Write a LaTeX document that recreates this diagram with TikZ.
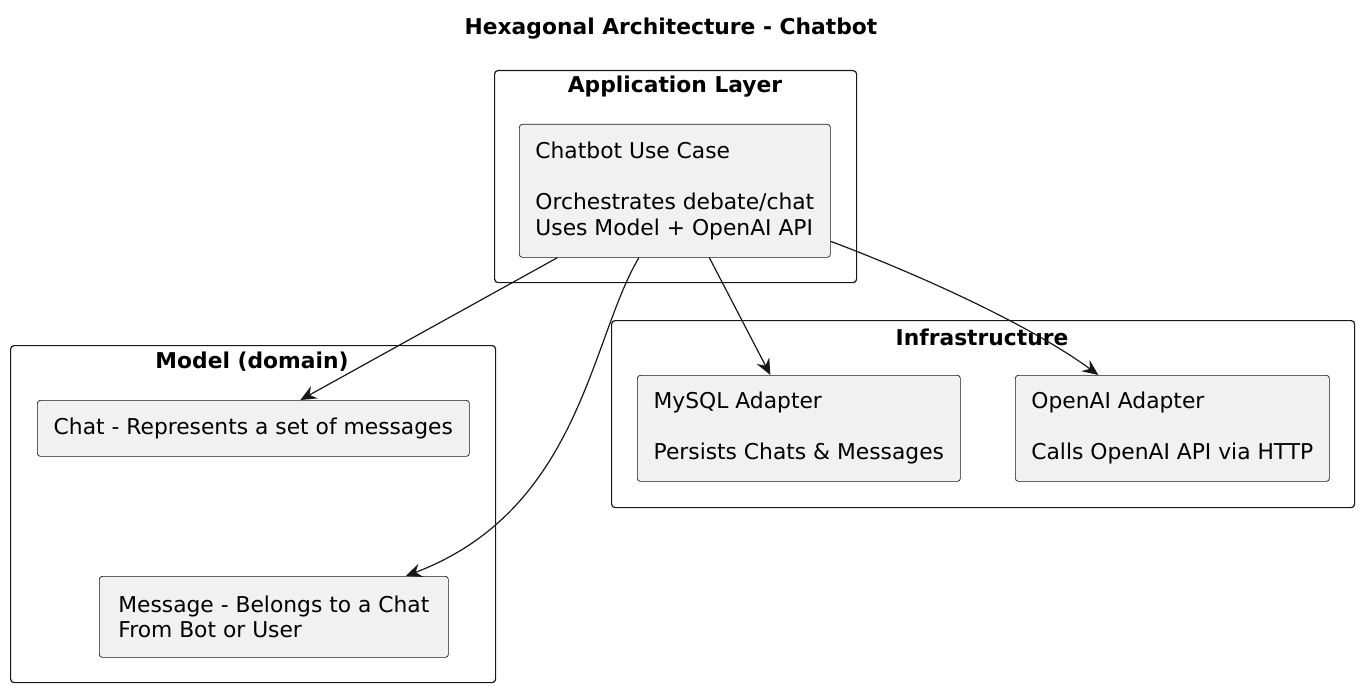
\documentclass[tikz,border=0pt]{standalone}
\usepackage{fontspec}
\setmainfont{DejaVu Sans}
\usetikzlibrary{arrows.meta}
\definecolor{compfill}{HTML}{F1F1F1}
\definecolor{linec}{HTML}{181818}
\begin{document}
\begin{tikzpicture}[x=1pt,y=-1pt,
  comp/.style={draw=linec, fill=compfill, rounded corners=3pt, line width=0.7pt,
    align=left, anchor=north west, inner xsep=0pt, inner ysep=0pt,
    font=\fontsize{21.8}{25.5}\selectfont},
  grp/.style={draw=linec, rounded corners=3.5pt, line width=1.2pt, anchor=north west,
    inner sep=0pt},
  gtitle/.style={font=\bfseries\fontsize{21.8}{25}\selectfont, inner sep=0pt},
  arr/.style={draw=linec, line width=1.2pt, -{Stealth[length=16pt,width=14pt,inset=5.5pt]}}
]
\useasboundingbox (0,0) rectangle (1362,690);
% title
\node[gtitle] (title) at (671,29) {Hexagonal Architecture - Chatbot};
% groups
\node[grp, minimum width=362pt, minimum height=212pt] (app) at (494,70) {};
\node[gtitle] (appt) at (675,86.5) {Application Layer};
\node[grp, minimum width=485pt, minimum height=337pt] (model) at (10,345) {};
\node[gtitle] (modelt) at (252,361.5) {Model (domain)};
\node[grp, minimum width=743pt, minimum height=187pt] (infra) at (611,320) {};
\node[gtitle] (infrat) at (982,337.5) {Infrastructure};
% components
\node[comp, minimum width=311pt, minimum height=133pt] (uc) at (519,124)
  {Chatbot Use Case\\[25.5pt]Orchestrates debate/chat\\Uses Model + OpenAI API};
\node[comp, minimum width=432pt, minimum height=56pt] (chat) at (37,400)
  {Chat - Represents a set of messages};
\node[comp, minimum width=349pt, minimum height=81pt] (msg) at (99,576)
  {Message - Belongs to a Chat\\From Bot or User};
\node[comp, minimum width=323pt, minimum height=106pt] (mysql) at (637,375)
  {MySQL Adapter\\[25.5pt]Persists Chats \& Messages};
\node[comp, minimum width=314pt, minimum height=106pt] (openai) at (1015,375)
  {OpenAI Adapter\\[25.5pt]Calls OpenAI API via HTTP};
% connectors
\draw[arr] ([xshift=-117.5pt]uc.south) -- ([xshift=47pt]chat.north);
\draw[arr] ([xshift=-36pt]uc.south) .. controls (590,340) and (580,510) .. ([xshift=132pt]msg.north);
\draw[arr] ([xshift=34.5pt]uc.south) -- ([xshift=-28.5pt]mysql.north);
\draw[arr] ([yshift=-50.5pt]uc.east) .. controls (920,275) and (1030,325) .. ([xshift=-74pt]openai.north);
\end{tikzpicture}
\end{document}
